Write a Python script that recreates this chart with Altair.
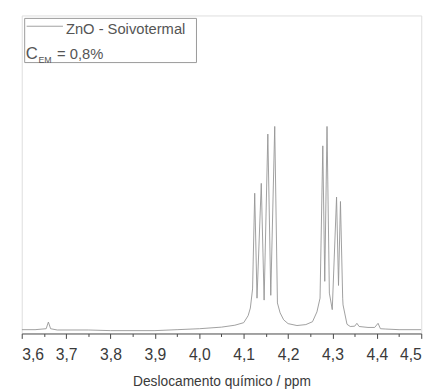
import altair as alt
import pandas as pd

# Spectrum (chemical shift in ppm, intensity in arbitrary units 0-100)
ppm = [3.600, 3.630, 3.655, 3.660, 3.665, 3.680, 3.750, 3.800, 3.900, 3.950,
       4.000, 4.050, 4.080, 4.100, 4.110, 4.115, 4.120, 4.1248, 4.130, 4.1396,
       4.146, 4.1544, 4.161, 4.1699, 4.176, 4.182, 4.190, 4.200, 4.220, 4.240,
       4.255, 4.265, 4.272, 4.2782, 4.2826, 4.2877, 4.293, 4.2995, 4.3092, 4.3136,
       4.318, 4.323, 4.3238, 4.3327, 4.340, 4.350, 4.355, 4.360, 4.380, 4.395,
       4.4027, 4.408, 4.420, 4.450, 4.500]
intensity = [1.2, 1.2, 1.5, 3.6, 1.5, 1.1, 1.1, 0.9, 0.9, 1.2,
             1.5, 2.0, 2.6, 3.4, 5.6, 8.0, 14.0, 44.1, 11.1, 47.2,
             10.5, 62.7, 12.0, 65.1, 9.6, 6.5, 4.3, 3.1, 2.5, 2.8,
             3.7, 6.8, 11.1, 59.0, 16.4, 65.1, 12.7, 7.5, 42.9, 15.1,
             41.5, 11.1, 9.0, 2.9, 2.2, 2.3, 3.2, 2.2, 1.9, 1.9,
             3.2, 1.5, 1.4, 1.2, 1.2]

major_ticks = [3.6, 3.7, 3.8, 3.9, 4.0, 4.1, 4.2, 4.3, 4.4, 4.5]
minor_ticks = [3.65, 3.75, 3.85, 3.95, 4.05, 4.15, 4.25, 4.35, 4.45]

legend_label = "ZnO - Soivotermal"
conc_symbol = "C"
conc_sub = "EM"
conc_value = "= 0,8%"
x_title = "Deslocamento químico / ppm"

FONT = "Liberation Sans"
W, H = 407, 324

df = pd.DataFrame({"ppm": ppm, "I": intensity})
one = pd.DataFrame({"k": [0]})

xscale = alt.Scale(domain=[3.6, 4.5], nice=False, zero=False)
yscale = alt.Scale(domain=[0, 100], nice=False)

line = alt.Chart(df).mark_line(color="#959595", strokeWidth=0.9, clip=True).encode(
    x=alt.X("ppm:Q", scale=xscale,
            axis=alt.Axis(values=major_ticks, format=".1f",
                          labelExpr="replace(datum.label, '.', ',')",
                          title=x_title, tickSize=5, tickColor="#444",
                          domainColor="#555", labelFont=FONT, labelFontSize=16,
                          labelColor="#3a3a3a", labelPadding=8, grid=False,
                          titleFont=FONT, titleFontSize=14, titleFontWeight="normal",
                          titleColor="#3a3a3a", titlePadding=13, orient="bottom")),
    y=alt.Y("I:Q", scale=yscale, axis=None),
)

minor = alt.Chart(df).mark_line(opacity=0).encode(
    x=alt.X("ppm:Q", scale=xscale,
            axis=alt.Axis(values=minor_ticks, labels=False, title=None, tickSize=3,
                          tickColor="#444", domain=False, grid=False, orient="bottom")),
    y=alt.Y("I:Q", scale=yscale, axis=None),
)

box = alt.Chart(one).mark_rect(fill="white", stroke="#999", strokeWidth=1).encode(
    x=alt.value(3), x2=alt.value(178), y=alt.value(3), y2=alt.value(48))
leg_line = alt.Chart(one).mark_rule(color="#a0a0a0", strokeWidth=1).encode(
    x=alt.value(5), x2=alt.value(42), y=alt.value(11))
leg_text = alt.Chart(one).mark_text(align="left", baseline="alphabetic", font=FONT,
                                    fontSize=15, color="#555").encode(
    x=alt.value(45), y=alt.value(19), text=alt.value(legend_label))
c_text = alt.Chart(one).mark_text(align="left", baseline="alphabetic", font=FONT,
                                  fontSize=17, color="#555").encode(
    x=alt.value(4), y=alt.value(44), text=alt.value(conc_symbol))
sub_text = alt.Chart(one).mark_text(align="left", baseline="alphabetic", font=FONT,
                                    fontSize=9, color="#555").encode(
    x=alt.value(17), y=alt.value(48), text=alt.value(conc_sub))
val_text = alt.Chart(one).mark_text(align="left", baseline="alphabetic", font=FONT,
                                    fontSize=15, color="#555").encode(
    x=alt.value(36), y=alt.value(44), text=alt.value(conc_value))

chart = alt.layer(minor, line, box, leg_line, leg_text, c_text, sub_text, val_text).resolve_axis(
    x="independent"
).properties(
    width=W, height=H,
    autosize=alt.AutoSizeParams(type="none"),
    padding={"left": 14, "top": 4, "right": 14, "bottom": 55},
).configure_view(stroke="#555", strokeWidth=1.2).configure(background="white")

chart.save("out.html", embed_options={"renderer": "svg", "actions": False})
